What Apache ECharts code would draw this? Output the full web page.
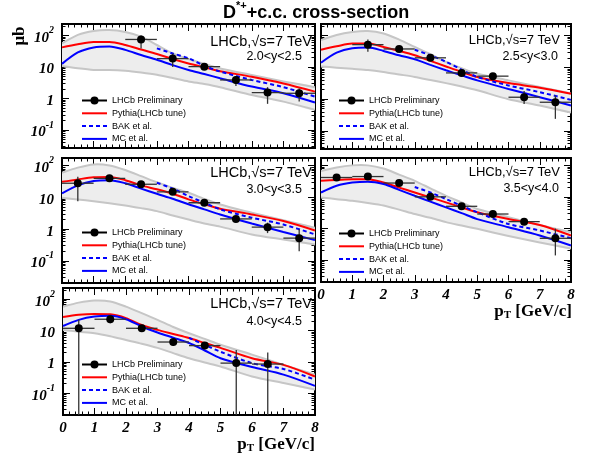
<!DOCTYPE html>
<html>
<head>
<meta charset="utf-8">
<script src="https://cdn.jsdelivr.net/npm/echarts@6/dist/echarts.min.js"></script>
<style>
  html, body { margin: 0; padding: 0; background: #fff; }
  #chart { width: 592px; height: 461px; }
</style>
</head>
<body>
<div id="chart"></div>
<script>
// --- Data (values in µb) ---

// pT grid of the theory curves and centres of the measured bins
const ptCurve = [0, 0.5, 1, 1.5, 2, 2.5, 3, 3.5, 4, 4.5, 5, 6, 7, 8];
const ptBins = [0.5, 1.5, 2.5, 3.5, 4.5, 5.5, 6.5, 7.5];
const rapidityBins = ['2.0<y<2.5', '2.5<y<3.0', '3.0<y<3.5', '3.5<y<4.0', '4.0<y<4.5'];
const seriesNames = ['LHCb Preliminary', 'Pythia(LHCb tune)', 'BAK et al.', 'MC et al.'];

// 2.0 < y < 2.5
const pythia1 = [42, 53, 62, 62, 50, 36, 26, 18, 13, 9.8, 7.4, 4.9, 3.0, 1.66];
const mc1 = [12.6, 29, 42, 45, 35, 24, 17, 11.5, 8.1, 6.0, 4.4, 2.4, 1.48, 0.75];
const bak1 = [null, null, null, null, null, null, 39, 27, 19, 11, 7.2, 3.9, 2.3, 1.15];
const bandHi1 = [56, 105, 140, 150, 130, 92, 50, 27, 18, 12.5, 9, 5.6, 3.5, 2.3];
const bandLo1 = [10.7, 9.1, 8.1, 8.1, 7.6, 6.7, 5.7, 4.5, 3.5, 2.9, 2.3, 1.3, 0.8, 0.44];
const lhcb1 = [null, null, 75, 18.5, 10.3, 3.9, 1.55, 1.47];
const lhcbLo1 = [null, null, 39, 10, 8, 2.5, 0.68, 0.8];
const lhcbHi1 = [null, null, 100, 27, 13, 5.2, 2.3, 2.1];

// 2.5 < y < 3.0
const pythia2 = [36, 46, 56, 56, 44, 33, 24, 16, 10.7, 7.2, 5, 3.2, 2.3, 1.48];
const mc2 = [14, 29, 40, 42, 33, 24, 18, 12, 8.1, 5.6, 3.9, 2.1, 1.15, 0.63];
const bak2 = [null, null, null, null, null, null, 36, 24, 15, 8.5, 5, 2.7, 1.66, 0.95];
const bandHi2 = [72, 105, 130, 140, 117, 75, 44, 26, 15, 9.5, 6.3, 3.9, 2.4, 1.5];
const bandLo2 = [10.7, 9.8, 9, 8.3, 7.2, 6, 5, 4, 3.2, 2.5, 1.9, 1.0, 0.63, 0.38];
const lhcb2 = [null, 52, 38, 20, 6.7, 5.3, 1.15, 0.8];
const lhcbLo2 = [null, 31, 32, 16, 5.6, 4.5, 0.7, 0.24];
const lhcbHi2 = [null, 76, 45, 24, 8, 6.3, 1.8, 1.3];

// 3.0 < y < 3.5
const pythia3 = [31, 37, 43, 44, 35, 24, 18, 13, 8.7, 6.1, 4.4, 2.9, 1.8, 0.91];
const mc3 = [13.4, 24, 33, 35, 28, 19, 13, 9.1, 6.1, 4.2, 2.9, 1.5, 0.81, 0.45];
const bak3 = [null, null, null, null, null, null, 29, 19, 11, 6.8, 4.2, 2.3, 1.4, 0.68];
const bandHi3 = [60, 87, 110, 102, 73, 47, 30, 20, 14, 9, 6, 3.3, 1.9, 1.1];
const bandLo3 = [9.8, 8.6, 7.6, 6.6, 5.6, 4.6, 3.7, 2.7, 2.0, 1.5, 1.2, 0.68, 0.47, 0.33];
const lhcb3 = [28, 40, 26, 15, 6.8, 2.1, 1.15, 0.52];
const lhcbLo3 = [7.6, 33, 22, 12, 5.6, 1.65, 0.75, 0.2];
const lhcbHi3 = [45, 48, 31, 18, 8.2, 2.6, 1.6, 1.0];

// 3.5 < y < 4.0
const pythia4 = [33, 35, 37, 37, 29, 20, 14, 9.8, 6.8, 4.7, 3.3, 2.0, 1.3, 0.6];
const mc4 = [14, 23, 29, 31, 26, 17, 11, 7.2, 4.7, 3.1, 2.0, 1.1, 0.6, 0.29];
const bak4 = [null, null, null, null, null, null, 21, 14, 8.7, 5.3, 3.3, 1.4, 0.87, 0.49];
const bandHi4 = [68, 88, 102, 102, 81, 52, 33, 19, 11, 6.8, 4.2, 2.3, 1.3, 0.76];
const bandLo4 = [9.8, 8.6, 7.6, 6.5, 5.4, 4.0, 2.9, 2.2, 1.6, 1.25, 0.98, 0.58, 0.36, 0.23];
const lhcb4 = [42, 45, 28, 10.2, 5.1, 2.9, 1.66, 0.49];
const lhcbLo4 = [34, 37, 23, 8.5, 4.3, 2.4, 1.35, 0.14];
const lhcbHi4 = [52, 54, 33, 12, 6, 3.4, 2.0, 1.0];

// 4.0 < y < 4.5
const pythia5 = [27, 32, 34, 33, 25, 15, 10.5, 7.8, 5.8, 4.0, 2.8, 1.3, 0.8, 0.34];
const mc5 = [14, 22, 28, 29.5, 23, 13.5, 8.7, 5.9, 4.0, 2.3, 1.3, 0.68, 0.39, 0.17];
const bak5 = [null, null, null, null, null, null, null, null, 5.8, 3.5, 2.1, 0.91, 0.59, 0.27];
const bandHi5 = [58, 78, 91, 85, 58, 36, 22, 13, 8.2, 5.4, 3.5, 1.7, 0.8, 0.39];
const bandLo5 = [10.5, 9.2, 8.2, 6.6, 5.0, 3.8, 2.8, 1.9, 1.3, 0.95, 0.71, 0.34, 0.21, 0.13];
const lhcb5 = [11.8, 23, 11.8, 4.3, 3.3, 0.91, 0.85, null];
const lhcbLo5 = [0.001, 17, 9.6, 3.2, 2.5, 0.001, 0.001, null];
const lhcbHi5 = [22, 30, 14, 5.6, 4.3, 2.4, 2.0, null];

// --- Panel layout (pixels) ---
const panels = [
  { grid: { left: 62, top: 24, width: 253, height: 124 }, yMin: 0.027, yMax: 232, col: 0, xLabels: false,
    curves: [pythia1, bak1, mc1], band: [bandHi1, bandLo1], pts: [lhcb1, lhcbLo1, lhcbHi1],
    legend: [76, 91], text: [312, 42, 302, 57] },
  { grid: { left: 321, top: 24, width: 250, height: 125 }, yMin: 0.027, yMax: 232, col: 1, xLabels: false,
    curves: [pythia2, bak2, mc2], band: [bandHi2, bandLo2], pts: [lhcb2, lhcbLo2, lhcbHi2],
    legend: [333, 91], text: [560, 40, 558, 57] },
  { grid: { left: 62, top: 158, width: 253, height: 125 }, yMin: 0.02, yMax: 175, col: 0, xLabels: false,
    curves: [pythia3, bak3, mc3], band: [bandHi3, bandLo3], pts: [lhcb3, lhcbLo3, lhcbHi3],
    legend: [76, 223], text: [312, 173, 302, 190] },
  { grid: { left: 321, top: 158, width: 250, height: 124 }, yMin: 0.02, yMax: 175, col: 1, xLabels: true,
    curves: [pythia4, bak4, mc4], band: [bandHi4, bandLo4], pts: [lhcb4, lhcbLo4, lhcbHi4],
    legend: [333, 224], text: [560, 172, 559, 189] },
  { grid: { left: 63, top: 288, width: 252, height: 127 }, yMin: 0.02, yMax: 229, col: 0, xLabels: true,
    curves: [pythia5, bak5, mc5], band: [bandHi5, bandLo5], pts: [lhcb5, lhcbLo5, lhcbHi5],
    legend: [76, 355], text: [312, 304, 302, 322] }
];

// --- Helpers ---

const serif = 'Liberation Serif';
const sans = 'Liberation Sans';

function pairs(ys) {
  return ptCurve.map((x, i) => [x, ys[i]]).filter((p) => p[1] != null);
}

function majorTicks(min, max) {
  return [0.01, 0.1, 1, 10, 100, 1000].filter((v) => v >= min && v <= max);
}

function minorTicks(min, max) {
  const out = [];
  for (let d = -2; d <= 2; d++) {
    for (let m = 2; m <= 9; m++) {
      const v = m * Math.pow(10, d);
      if (v >= min && v <= max) out.push(v);
    }
  }
  return out;
}

function powLabel(v) {
  const e = Math.round(Math.log10(v));
  if (e === 0) return '{b|1}';
  if (e === 1) return '{b|10}';
  return '{b|10}{s|' + (e < 0 ? '-' : '') + Math.abs(e) + '}';
}

function bandRenderer(hi, lo) {
  return function (params, api) {
    const top = ptCurve.map((x, i) => api.coord([x, hi[i]]));
    const bottom = ptCurve.map((x, i) => api.coord([x, lo[i]]));
    const edge = { stroke: '#c6c6c6', lineWidth: 2, fill: null };
    return {
      type: 'group',
      children: [
        { type: 'polygon', shape: { points: top.concat(bottom.slice().reverse()), smooth: 0.25 },
          style: { fill: '#ededed' } },
        { type: 'polyline', shape: { points: top, smooth: 0.25 }, style: edge },
        { type: 'polyline', shape: { points: bottom, smooth: 0.25 }, style: edge }
      ]
    };
  };
}

function renderPoint(params, api) {
  const x = api.value(0);
  const y = api.value(1);
  const c = api.coord([x, y]);
  const l = api.coord([x - 0.5, y]);
  const r = api.coord([x + 0.5, y]);
  const lo = api.coord([x, api.value(2)]);
  const hi = api.coord([x, api.value(3)]);
  const bar = { stroke: '#333', lineWidth: 1.3 };
  return {
    type: 'group',
    children: [
      { type: 'line', shape: { x1: l[0], y1: l[1], x2: r[0], y2: r[1] }, style: bar },
      { type: 'line', shape: { x1: lo[0], y1: lo[1], x2: hi[0], y2: hi[1] }, style: bar },
      { type: 'circle', shape: { cx: c[0], cy: c[1], r: 4 }, style: { fill: '#000' } }
    ]
  };
}

// --- Build option ---

const grids = [];
const xAxes = [];
const yAxes = [];
const series = [];
const legends = [];
const graphics = [];

const tickLine = { color: '#000', width: 1 };

panels.forEach((p, i) => {
  grids.push({ ...p.grid, show: true, borderColor: '#000', borderWidth: 2, backgroundColor: 'transparent' });

  ['bottom', 'top'].forEach((pos) => {
    xAxes.push({
      type: 'value', gridIndex: i, position: pos, min: 0, max: 8, interval: 1,
      axisLine: { show: false, onZero: false },
      splitLine: { show: false },
      axisTick: { inside: true, length: 7, lineStyle: tickLine },
      minorTick: { show: true, splitNumber: 5, length: 3.5, lineStyle: tickLine },
      axisLabel: {
        show: pos === 'bottom' && p.xLabels, margin: 6, color: '#000',
        fontFamily: serif, fontStyle: 'italic', fontWeight: 'bold', fontSize: 15
      }
    });
  });

  const major = majorTicks(p.yMin, p.yMax);
  const minor = minorTicks(p.yMin, p.yMax);
  ['left', 'right'].forEach((pos) => {
    [major, minor].forEach((ticks, k) => {
      yAxes.push({
        type: 'log', gridIndex: i, position: pos, min: p.yMin, max: p.yMax,
        axisLine: { show: false, onZero: false },
        splitLine: { show: false },
        minorTick: { show: false },
        axisTick: { inside: true, length: k === 0 ? 7 : 3.5, customValues: ticks, lineStyle: tickLine },
        axisLabel: {
          show: pos === 'left' && k === 0 && p.col === 0,
          customValues: ticks, margin: 8, formatter: powLabel,
          rich: {
            b: { fontFamily: serif, fontStyle: 'italic', fontWeight: 'bold', fontSize: 15, color: '#000',
                 lineHeight: 20, verticalAlign: 'bottom' },
            s: { fontFamily: serif, fontStyle: 'italic', fontWeight: 'bold', fontSize: 10, color: '#000',
                 lineHeight: 12, verticalAlign: 'top' }
          }
        }
      });
    });
  });

  const xi = i * 2;
  const yi = i * 4;

  series.push({
    type: 'custom', xAxisIndex: xi, yAxisIndex: yi, clip: true, z: 1,
    renderItem: bandRenderer(p.band[0], p.band[1]), data: [[4, 1]], silent: true
  });

  const styles = [
    { name: seriesNames[1], color: '#ff0000', type: 'solid' },
    { name: seriesNames[2], color: '#0000ff', type: [4, 3] },
    { name: seriesNames[3], color: '#0000ff', type: 'solid' }
  ];
  p.curves.forEach((ys, k) => {
    series.push({
      type: 'line', name: styles[k].name, xAxisIndex: xi, yAxisIndex: yi,
      data: pairs(ys), smooth: 0.3, symbol: 'none', z: 3,
      lineStyle: { color: styles[k].color, width: 2, type: styles[k].type },
      itemStyle: { color: styles[k].color }
    });
  });

  const pts = ptBins
    .map((x, k) => [x, p.pts[0][k], p.pts[1][k], p.pts[2][k]])
    .filter((d) => d[1] != null);
  series.push({
    type: 'custom', name: 'points' + i, xAxisIndex: xi, yAxisIndex: yi, clip: true, z: 5,
    renderItem: renderPoint, data: pts
  });

  legends.push({
    orient: 'vertical', left: p.legend[0], top: p.legend[1],
    itemWidth: 25, itemHeight: 10, itemGap: 3.8, selectedMode: false,
    textStyle: { fontFamily: sans, fontSize: 9, color: '#000' },
    data: seriesNames.map((n, k) => (k === 0 ? { name: n } : { name: n, itemStyle: { opacity: 0 } }))
  });

  const big = p.col === 0 ? 14.5 : 13;
  graphics.push({
    type: 'text', x: p.text[0], y: p.text[1],
    style: { text: 'LHCb,\u221As=7 TeV', align: 'right', verticalAlign: 'middle',
             font: big + 'px "' + sans + '"', fill: '#000' }
  });
  graphics.push({
    type: 'text', x: p.text[2], y: p.text[3],
    style: { text: rapidityBins[i], align: 'right', verticalAlign: 'middle',
             font: '12.5px "' + sans + '"', fill: '#000' }
  });
});

// legend entry for the data markers (line + filled circle)
series.push({
  type: 'line', name: seriesNames[0], xAxisIndex: 0, yAxisIndex: 0, data: [],
  symbol: 'circle', symbolSize: 8,
  lineStyle: { color: '#000', width: 1.5 }, itemStyle: { color: '#000' }
});

// axis titles
const ptTitle = {
  text: '{p|p}{t|T}{p| [GeV/c]}', align: 'right', verticalAlign: 'middle',
  rich: {
    p: { fontFamily: serif, fontWeight: 'bold', fontSize: 17, color: '#000', lineHeight: 18, verticalAlign: 'top' },
    t: { fontFamily: serif, fontWeight: 'bold', fontSize: 11, color: '#000', lineHeight: 12,
         padding: [14, 0, 0, 0], verticalAlign: 'bottom' }
  }
};
graphics.push({ type: 'text', x: 572, y: 312, style: ptTitle });
graphics.push({ type: 'text', x: 315, y: 445, style: ptTitle });
graphics.push({
  type: 'text', x: 20, y: 36, rotation: Math.PI / 2,
  style: { text: '\u03BCb', align: 'center', verticalAlign: 'middle',
           font: 'bold 17px "' + serif + '"', fill: '#000' }
});

const option = {
  animation: false,
  backgroundColor: '#fff',
  title: {
    left: 218, top: -5,
    text: '{a|D}{s|*+}{a|+c.c. cross-section}',
    textStyle: {
      rich: {
        a: { fontFamily: sans, fontSize: 18, color: '#000', lineHeight: 22, verticalAlign: 'bottom' },
        s: { fontFamily: sans, fontSize: 11, color: '#000', lineHeight: 12, verticalAlign: 'top' }
      }
    }
  },
  grid: grids,
  xAxis: xAxes,
  yAxis: yAxes,
  legend: legends,
  series,
  graphic: graphics
};

const chart = echarts.init(document.getElementById('chart'), null, { renderer: 'canvas' });
chart.setOption(option);
</script>
</body>
</html>
